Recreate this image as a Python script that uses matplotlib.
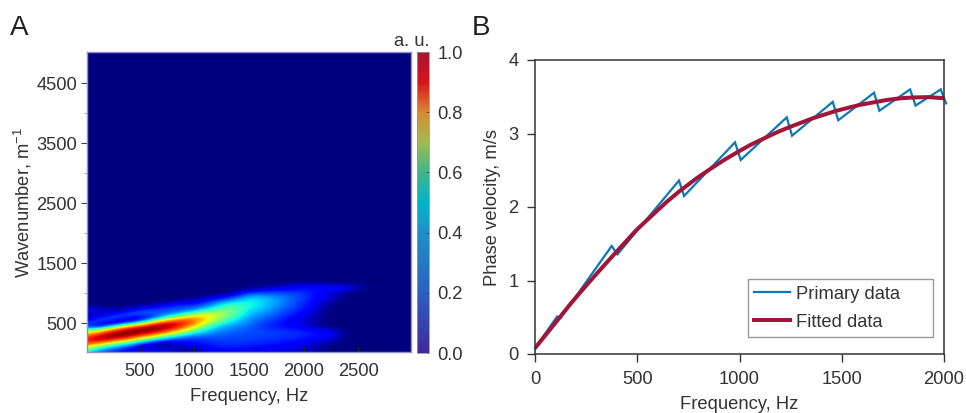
import numpy as np
import matplotlib
matplotlib.use('Agg')
import matplotlib.pyplot as plt
from matplotlib.colors import LinearSegmentedColormap, Normalize
from matplotlib.cm import ScalarMappable

plt.rcParams['font.family'] = ['Liberation Sans', 'DejaVu Sans']
plt.rcParams['mathtext.default'] = 'regular'
TEXT = '#333333'
FS = 13.2

# panel A, one list per frequency (0, 125, ... 2625 Hz), wavenumber 0, 50, ... 1200 going up
spectrum_columns = [
    [.36, .50, .68, .82, .88, .85, .74, .60, .38, .20, .20, .12, .02, .06, .13, .10, 0, 0, 0, 0, 0, 0, 0, 0, 0],
    [.22, .30, .46, .70, .90, .97, .90, .72, .44, .08, .16, .20, .13, .04, .08, .05, 0, 0, 0, 0, 0, 0, 0, 0, 0],
    [.14, .20, .32, .52, .78, .95, 1.0, .94, .72, .35, .05, .15, .20, .12, .04, .03, 0, 0, 0, 0, 0, 0, 0, 0, 0],
    [.10, .14, .20, .38, .62, .87, 1.0, 1.0, .92, .64, .22, .05, .17, .20, .10, .02, 0, 0, 0, 0, 0, 0, 0, 0, 0],
    [.12, .10, .08, .20, .42, .68, .90, 1.0, 1.0, .82, .46, .12, .10, .20, .20, .10, .02, 0, 0, 0, 0, 0, 0, 0, 0],
    [.14, .10, .05, .06, .25, .50, .75, .93, 1.0, .97, .78, .42, .18, .20, .20, .15, .05, 0, 0, 0, 0, 0, 0, 0, 0],
    [.13, .08, .04, .05, .12, .33, .56, .78, .93, .98, .92, .70, .40, .24, .20, .18, .12, .04, 0, 0, 0, 0, 0, 0, 0],
    [.07, .02, .05, .10, .14, .22, .40, .58, .76, .88, .90, .82, .62, .38, .24, .20, .16, .07, .02, 0, 0, 0, 0, 0, 0],
    [.06, .02, .08, .12, .15, .18, .27, .40, .55, .68, .78, .80, .72, .52, .32, .22, .16, .10, .03, 0, 0, 0, 0, 0, 0],
    [.10, .11, .13, .15, .17, .20, .24, .30, .35, .45, .56, .64, .67, .62, .47, .32, .24, .17, .10, .03, 0, 0, 0, 0, 0],
    [.10, .13, .15, .17, .18, .20, .22, .24, .28, .31, .40, .48, .53, .55, .52, .46, .37, .28, .18, .08, 0, 0, 0, 0, 0],
    [.10, .13, .15, .17, .18, .19, .20, .22, .24, .27, .30, .35, .40, .45, .47, .47, .43, .35, .26, .16, .06, 0, 0, 0, 0],
    [.09, .12, .14, .16, .18, .19, .19, .20, .21, .23, .25, .27, .29, .31, .34, .37, .38, .38, .35, .28, .20, .08, 0, 0, 0],
    [.08, .11, .13, .15, .17, .18, .19, .19, .18, .18, .19, .21, .24, .27, .30, .32, .34, .34, .33, .28, .20, .12, .03, 0, 0],
    [.08, .10, .12, .14, .16, .17, .18, .18, .16, .15, .15, .17, .19, .21, .23, .25, .28, .28, .28, .25, .20, .14, .07, .01, 0],
    [.07, .09, .10, .12, .14, .16, .17, .17, .15, .12, .12, .12, .14, .16, .18, .20, .21, .22, .22, .22, .19, .14, .10, .05, 0],
    [.06, .07, .08, .10, .12, .15, .16, .16, .13, .10, .09, .09, .10, .11, .13, .15, .16, .17, .18, .18, .17, .15, .12, .06, 0],
    [.03, .03, .04, .06, .09, .12, .13, .13, .09, .04, .02, .02, .03, .04, .06, .08, .10, .11, .12, .12, .13, .14, .12, .07, 0],
    [0, 0, 0, .02, .06, .10, .12, .12, .06, 0, 0, 0, 0, 0, 0, 0, 0, .03, .07, .08, .08, .12, .12, .05, 0],
    [0, 0, 0, 0, 0, 0, 0, 0, 0, 0, 0, 0, 0, 0, 0, 0, 0, 0, 0, 0, .02, .10, .11, .04, 0],
    [0, 0, 0, 0, 0, 0, 0, 0, 0, 0, 0, 0, 0, 0, 0, 0, 0, 0, 0, 0, 0, .02, .05, .01, 0],
    [0, 0, 0, 0, 0, 0, 0, 0, 0, 0, 0, 0, 0, 0, 0, 0, 0, 0, 0, 0, 0, 0, 0, 0, 0],
]
freq_step = 125
wave_step = 50
colorbar_colors = ['#3F2A9C', '#2D5FC0', '#1E90C8', '#00B5C8', '#3FB58A', '#A0BC50',
                   '#D98A35', '#D8141E', '#A5162F']
colorbar_stops = [0, .2, .4, .5, .6, .7, .8, .9, 1]

# panel B
primary_f = [0, 108, 125, 375, 403, 704, 729, 978, 1006, 1231, 1257, 1456, 1483,
             1658, 1684, 1834, 1861, 1984, 2010]
primary_v = [.08, .51, .49, 1.47, 1.356, 2.36, 2.15, 2.88, 2.64, 3.22, 2.97, 3.43, 3.18,
             3.555, 3.31, 3.60, 3.38, 3.60, 3.41]
fitted_f = [0, 90, 170, 253, 320, 385, 441, 497, 578, 644, 709, 790, 864, 925, 986, 1050, 1125, 1186,
            1247, 1361, 1475, 1589, 1720, 1790, 1850, 1925, 2000]
fitted_v = [.08, .39, .67, .94, 1.15, 1.35, 1.52, 1.69, 1.90, 2.07, 2.22, 2.39, 2.53, 2.64, 2.74, 2.84,
            2.94, 3.02, 3.09, 3.21, 3.31, 3.39, 3.456, 3.48, 3.49, 3.495, 3.48]

W, H = 966.0, 413.0


def box(x0, y0, x1, y1):
    return [x0 / W, 1 - y1 / H, (x1 - x0) / W, (y1 - y0) / H]


fig = plt.figure(figsize=(W / 100, H / 100), dpi=100)

# panel A
ax1 = fig.add_axes(box(87, 52, 411, 352))
spectrum = np.zeros((102, 26))
spectrum[:25, :22] = np.array(spectrum_columns).T
ax1.imshow(spectrum, origin='lower', aspect='auto', cmap='jet', vmin=0, vmax=1, interpolation='bicubic',
           extent=[-freq_step / 2, 25.5 * freq_step, -wave_step / 2, 101.5 * wave_step])
ax1.set_xlim(14, 2986)
ax1.set_ylim(17, 5017)
ax1.set_xticks([500, 1000, 1500, 2000, 2500])
ax1.set_yticks([500, 1500, 2500, 3500, 4500])
ax1.set_yticks([1000, 2000, 3000, 4000], minor=True)
ax1.tick_params(axis='x', direction='in', length=4, width=0.8, color='#222222', labelsize=FS,
                labelcolor=TEXT, pad=8)
ax1.tick_params(axis='y', direction='out', length=4, width=0.8, color='#444444', labelsize=FS,
                labelcolor=TEXT, pad=3)
ax1.tick_params(axis='y', which='minor', direction='out', length=2, width=0.5, color='#888888')
for s in ax1.spines.values():
    s.set_color('#9090D0')
    s.set_linewidth(1)
ax1.set_xlabel('Frequency, Hz', fontsize=FS, color=TEXT, labelpad=6)
ax1.set_ylabel('Wavenumber, m$^{-1}$', fontsize=FS, color=TEXT, labelpad=2)

cax = fig.add_axes(box(417, 52, 429, 353))
cmap = LinearSegmentedColormap.from_list('muted', list(zip(colorbar_stops, colorbar_colors)))
cb = fig.colorbar(ScalarMappable(Normalize(0, 1), cmap), cax=cax)
cb.set_ticks([0, .2, .4, .6, .8, 1])
cb.ax.tick_params(direction='in', length=2, width=0.6, color='#444444', labelsize=FS,
                  labelcolor=TEXT, pad=6)
cb.outline.set_edgecolor('#999999')
cb.outline.set_linewidth(0.6)
fig.text(412 / W, 1 - 41 / H, 'a. u.', fontsize=FS, color=TEXT, ha='center', va='center')

# panel B
ax2 = fig.add_axes(box(535, 60, 944, 354))
ax2.plot(primary_f, primary_v, color='#0A78BE', lw=1.6, solid_joinstyle='miter', label='Primary data',
         clip_on=False)
ax2.plot(fitted_f, fitted_v, color='#A31538', lw=2.9, label='Fitted data')
ax2.set_xlim(0, 2000)
ax2.set_ylim(0, 4)
ax2.set_xticks([0, 500, 1000, 1500, 2000])
ax2.set_yticks([0, 1, 2, 3, 4])
ax2.tick_params(direction='out', length=6, width=1, color='#333333', labelsize=FS,
                labelcolor=TEXT, pad=6)
for s in ax2.spines.values():
    s.set_color('#333333')
    s.set_linewidth(1.1)
ax2.set_xlabel('Frequency, Hz', fontsize=FS, color=TEXT, labelpad=6)
ax2.set_ylabel('Phase velocity, m/s', fontsize=FS, color=TEXT, labelpad=5)
leg = ax2.legend(loc='lower left', bbox_to_anchor=((748 - 535) / 409, (354 - 337) / 294, 185 / 409, 59 / 294),
                 mode='expand', fontsize=FS, fancybox=False, framealpha=1, edgecolor='#999999',
                 borderaxespad=0, labelcolor=TEXT, handlelength=1.95, handletextpad=0.3,
                 labelspacing=0.6, borderpad=0.35)
leg.get_frame().set_linewidth(1)

fig.text(19 / W, 1 - 28 / H, 'A', fontsize=20, color='#222222', ha='center', va='center')
fig.text(481 / W, 1 - 28 / H, 'B', fontsize=20, color='#222222', ha='center', va='center')

fig.savefig('out.png', dpi=100)
